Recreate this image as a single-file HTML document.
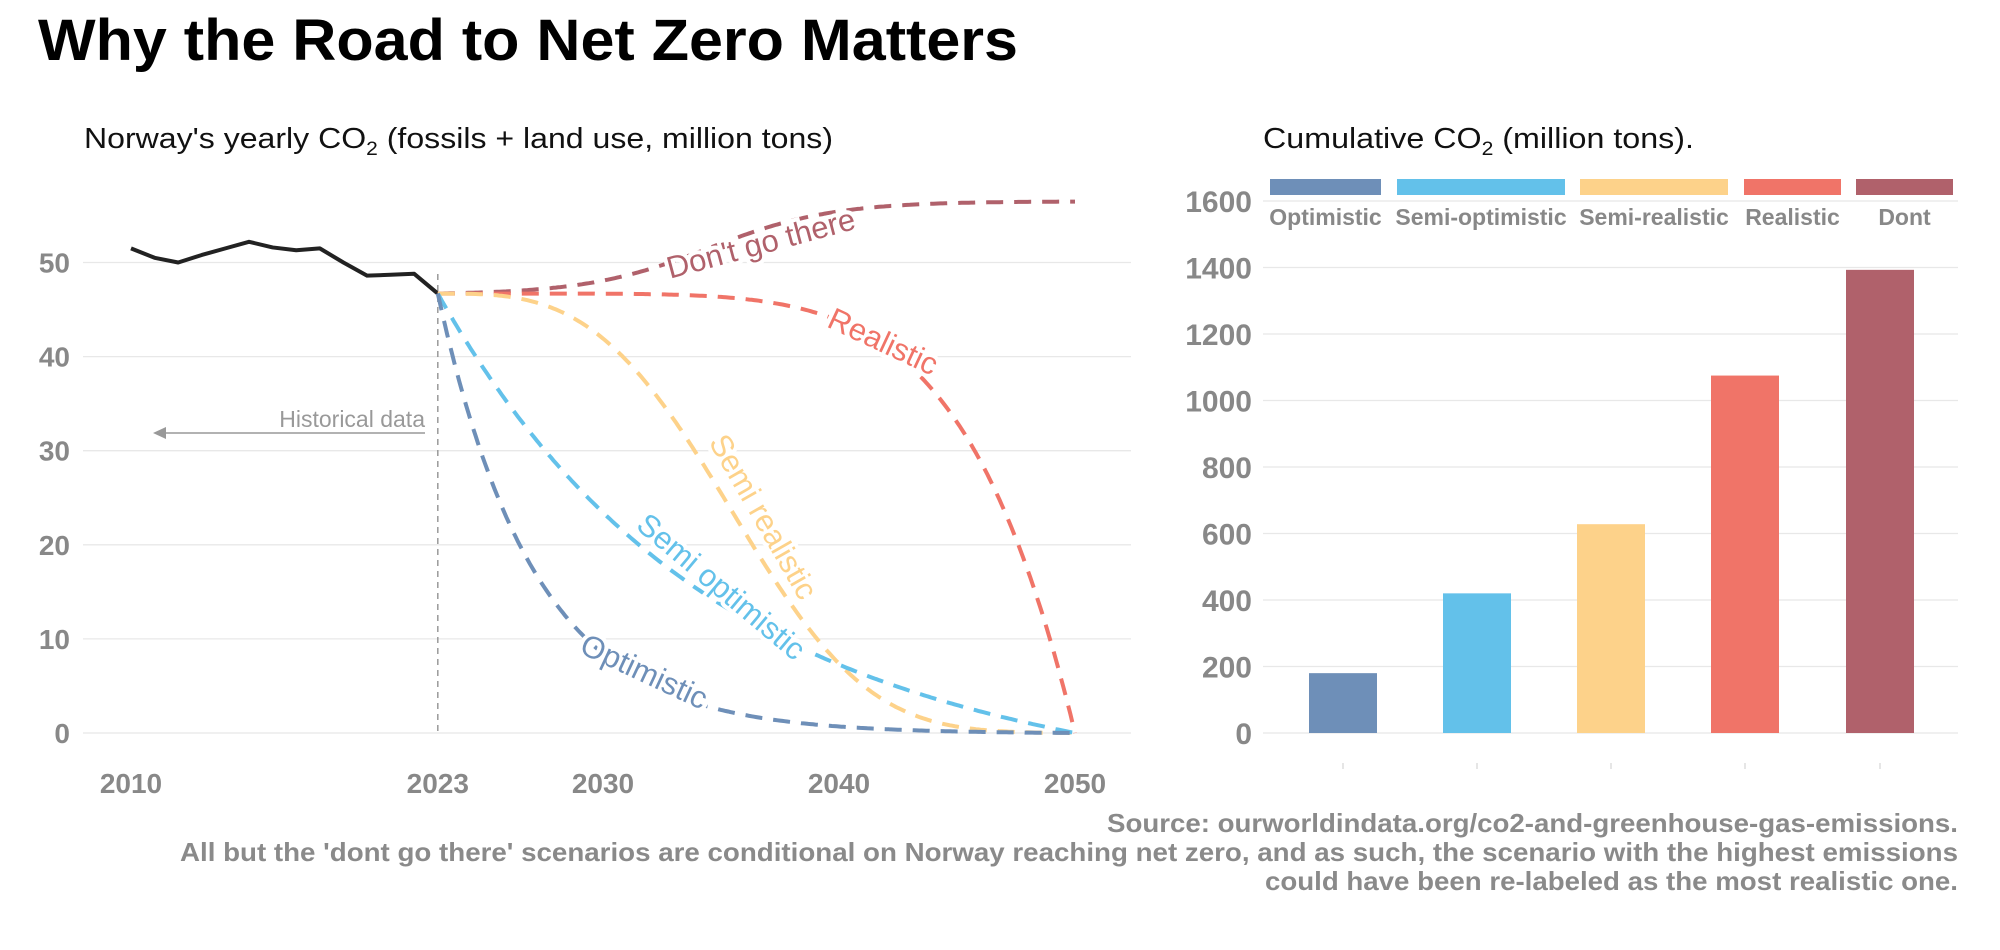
<!DOCTYPE html>
<html><head><meta charset="utf-8"><style>
html,body{margin:0;padding:0;background:#fff;}
svg{display:block;}
</style></head><body>
<svg id="s" width="2000" height="950" xmlns="http://www.w3.org/2000/svg" font-family="Liberation Sans, sans-serif">
<text x="38" y="60" font-size="58" font-weight="bold" fill="#000" textLength="980" lengthAdjust="spacingAndGlyphs">Why the Road to Net Zero Matters</text>
<text x="84" y="148" font-size="29" fill="#111" textLength="749" lengthAdjust="spacingAndGlyphs">Norway's yearly CO<tspan font-size="19" dy="7">2</tspan><tspan dy="-7"> (fossils + land use, million tons)</tspan></text>
<text x="1263" y="148" font-size="29" fill="#111" textLength="431" lengthAdjust="spacingAndGlyphs">Cumulative CO<tspan font-size="19" dy="7">2</tspan><tspan dy="-7"> (million tons).</tspan></text>
<g id="left"></g>
<g id="right"></g>
<g font-size="26" font-weight="bold" fill="#8a8a8a" text-anchor="end" lengthAdjust="spacingAndGlyphs">
<text x="1958" y="832" textLength="851" lengthAdjust="spacingAndGlyphs">Source: ourworldindata.org/co2-and-greenhouse-gas-emissions.</text>
<text x="1958" y="861" textLength="1778" lengthAdjust="spacingAndGlyphs">All but the 'dont go there' scenarios are conditional on Norway reaching net zero, and as such, the scenario with the highest emissions</text>
<text x="1958" y="890" textLength="693" lengthAdjust="spacingAndGlyphs">could have been re-labeled as the most realistic one.</text>
</g>
</svg>
<script>
const NS="http://www.w3.org/2000/svg";
function el(p,t,a,txt){const e=document.createElementNS(NS,t);for(const k in a)e.setAttribute(k,a[k]);if(txt!==undefined)e.textContent=txt;p.appendChild(e);return e;}
const L=document.getElementById('left'),R=document.getElementById('right');
const X=y=>131+(y-2010)*23.6, Y=v=>733-v*9.41;
for(let v=0;v<=50;v+=10){el(L,'line',{x1:83,x2:1131,y1:Y(v),y2:Y(v),stroke:'#e8e8e8','stroke-width':1.3});
 el(L,'text',{x:70,y:Y(v)+10,'font-size':28,'font-weight':'bold',fill:'#888','text-anchor':'end'},v);}
[2010,2023,2030,2040,2050].forEach(y=>el(L,'text',{x:X(y),y:793,'font-size':28,'font-weight':'bold',fill:'#888','text-anchor':'middle'},y));
el(L,'line',{x1:X(2023),x2:X(2023),y1:274,y2:733,stroke:'#999','stroke-width':1.5,'stroke-dasharray':'6,5'});
el(L,'text',{x:425,y:427,'font-size':23,fill:'#999','text-anchor':'end'},'Historical data');
el(L,'line',{x1:425,x2:160,y1:433,y2:433,stroke:'#999','stroke-width':1.5});
el(L,'path',{d:'M153 433 L166 427 L166 439Z',fill:'#999'});
const hist=[51.5,50.5,50.0,50.8,51.5,52.2,51.6,51.3,51.5,50.0,48.6,48.7,48.8,46.7];
el(L,'path',{d:hist.map((v,i)=>(i?'L':'M')+X(2010+i)+' '+Y(v)).join(' '),fill:'none',stroke:'#222','stroke-width':4,'stroke-linejoin':'round'});
const S=46.7;
function curve(f){let d='';for(let i=0;i<=270;i++){const t=i/270,yr=2023+27*t;d+=(i?'L':'M')+X(yr).toFixed(1)+' '+Y(f(t)).toFixed(1)+' ';}return d;}
const cs=[
 ['#B0616B',t=>{const y=27*t;const g=a=>1/(1+Math.exp(-(a-11.5)/2.6));return S+9.8*(g(y)-g(0))/(1-g(0));}],
 ['#F07468',t=>S*(1-Math.pow(t,6))],
 ['#FDD28A',t=>{const a=Math.exp(-Math.pow(t/0.52,3.2));const b=Math.exp(-Math.pow(1/0.52,3.2));return S*(a-b*t);}],
 ['#63C1EA',t=>{const k=2.5;return S*(Math.exp(-k*t)-Math.exp(-k)*t);}],
 ['#6E8FB8',t=>{const k=6.6;return S*(Math.exp(-k*t)-Math.exp(-k)*t);}]
];
cs.forEach(c=>el(L,'path',{d:curve(c[1]),fill:'none',stroke:c[0],'stroke-width':4,'stroke-dasharray':'17,11'}));
const labs=[['Don\'t go there','#B0616B',761,244,-15],['Realistic','#F07468',883,342,25],['Semi realistic','#FDD28A',763,517,60],['Semi optimistic','#63C1EA',721,587,40],['Optimistic','#6E8FB8',644,672,25]];
labs.forEach(l=>el(L,'text',{x:l[2],y:l[3]+10,'font-size':31,fill:l[1],'text-anchor':'middle',transform:`rotate(${l[4]} ${l[2]} ${l[3]})`,stroke:'#fff','stroke-width':8,'paint-order':'stroke'},l[0]));
const Y2=v=>733-v*0.3325;
for(let v=0;v<=1600;v+=200){el(R,'line',{x1:1263,x2:1958,y1:Y2(v),y2:Y2(v),stroke:'#e8e8e8','stroke-width':1.3});
 el(R,'text',{x:1252,y:Y2(v)+11,'font-size':30,'font-weight':'bold',fill:'#888','text-anchor':'end'},v);}
const cols=['#6E8FB8','#63C1EA','#FDD28A','#F07468','#B0616B'];
const vals=[180,420,628,1075,1393],cx=[1343,1477,1611,1745,1880];
vals.forEach((v,i)=>{el(R,'rect',{x:cx[i]-34,y:Y2(v),width:68,height:v*0.3325,fill:cols[i]});
 el(R,'line',{x1:cx[i],x2:cx[i],y1:763,y2:769,stroke:'#ccc','stroke-width':1});});
const lg=[[1270,1381,'Optimistic'],[1397,1565,'Semi-optimistic'],[1580,1728,'Semi-realistic'],[1744,1841,'Realistic'],[1856,1953,'Dont']];
lg.forEach((g,i)=>{el(R,'rect',{x:g[0],y:179,width:g[1]-g[0],height:16,fill:cols[i]});
 el(R,'text',{x:(g[0]+g[1])/2,y:225,'font-size':23,'font-weight':'bold',fill:'#888','text-anchor':'middle'},g[2]);});
</script>
</body></html>
